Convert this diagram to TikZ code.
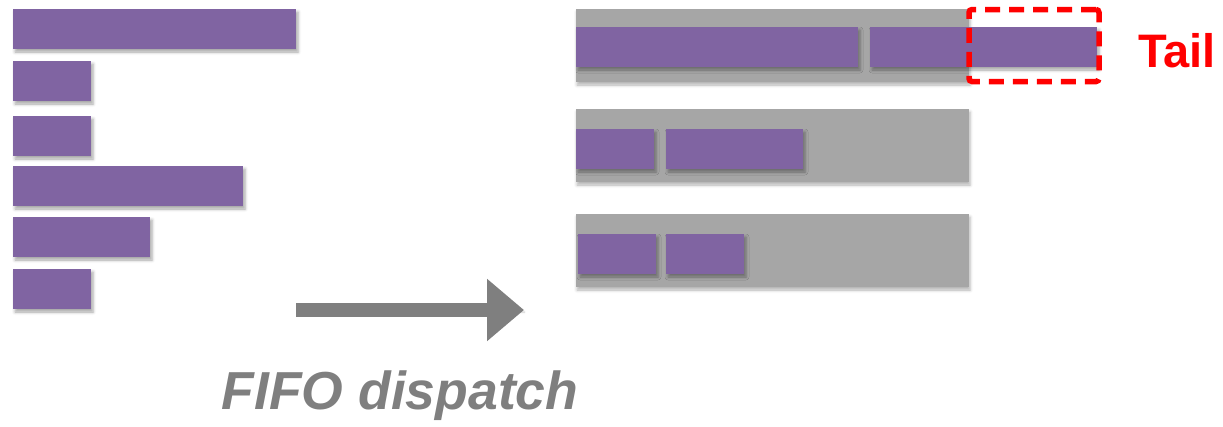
\documentclass[tikz,border=0pt]{standalone}
\usepackage{fontspec}
\setmainfont{Liberation Sans}
\usetikzlibrary{shadows.blur,arrows.meta}
\definecolor{job}{HTML}{8064A2}
\definecolor{lane}{HTML}{A6A6A6}
\definecolor{flow}{HTML}{7F7F7F}
\definecolor{mark}{HTML}{FF0000}
\tikzset{
  box/.style={anchor=north west, inner sep=0pt, outer sep=0pt, draw=none},
  jobbar/.style={box, fill=job, minimum height=40pt,
    blur shadow={shadow xshift=2pt, shadow yshift=-3pt, shadow blur radius=3pt, shadow opacity=35}},
  lanebox/.style={box, fill=lane, minimum width=393pt, minimum height=73pt,
    blur shadow={shadow xshift=1pt, shadow yshift=-3pt, shadow blur radius=3pt, shadow opacity=30}},
  tailbox/.style={box, draw=mark, line width=5.5pt, dash pattern=on 15pt off 9pt, rounded corners=3pt},
}
\begin{document}
\begin{tikzpicture}[x=1pt,y=-1pt]
\useasboundingbox (0,0) rectangle (1223,426);

% incoming jobs
\node[jobbar, minimum width=283pt] (q1) at (13,9) {};
\node[jobbar, minimum width=78pt]  (q2) at (13,61) {};
\node[jobbar, minimum width=78pt]  (q3) at (13,116) {};
\node[jobbar, minimum width=230pt] (q4) at (13,166) {};
\node[jobbar, minimum width=137pt] (q5) at (13,217) {};
\node[jobbar, minimum width=78pt]  (q6) at (13,269) {};

% worker lanes
\node[lanebox] (l1) at (576,9) {};
\node[lanebox] (l2) at (576,109) {};
\node[lanebox] (l3) at (576,214) {};

% jobs placed on the lanes
\node[jobbar, minimum width=282pt] (w11) at (576,27) {};
\node[jobbar, minimum width=227pt] (w12) at (870,27) {};
\node[jobbar, minimum width=78pt]  (w21) at (576,129) {};
\node[jobbar, minimum width=137pt] (w22) at (666,129) {};
\node[jobbar, minimum width=78pt]  (w31) at (578,234) {};
\node[jobbar, minimum width=78pt]  (w32) at (666,234) {};

% tail marker
\node[tailbox, minimum width=130pt, minimum height=72pt] (tail) at (969,9.5) {};
\node[anchor=base west, text=mark, font=\fontsize{47}{47}\selectfont\bfseries, inner sep=0pt]
  (taillbl) at (1138,67) {Tail};

% dispatch arrow
\coordinate (from) at (296,310);
\coordinate (to) at (524,310);
\draw[flow, line width=14pt, -{Triangle[length=37pt,width=60pt]},
  blur shadow={shadow xshift=1pt, shadow yshift=-2pt, shadow blur radius=2pt, shadow opacity=25}]
  (from) -- (to);
\node[text=flow, font=\fontsize{53.5}{53.5}\selectfont\bfseries\itshape, inner sep=0pt, anchor=base]
  (lbl) at (400,409) {FIFO dispatch};
\end{tikzpicture}
\end{document}
